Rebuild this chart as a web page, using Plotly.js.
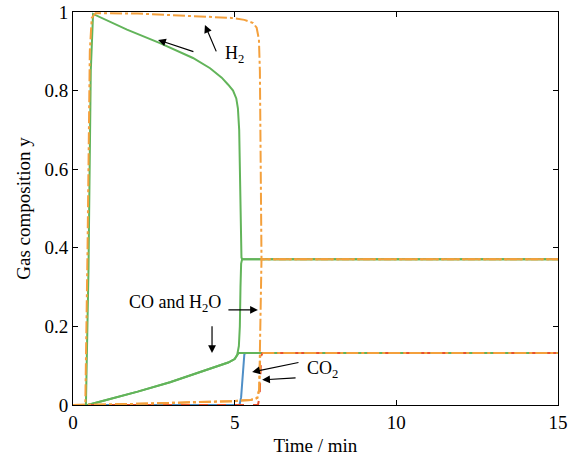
<!DOCTYPE html>
<html>
<head>
<meta charset="utf-8">
<script src="https://cdn.plot.ly/plotly-3.0.1.min.js"></script>
<style>html,body{margin:0;padding:0;background:#fff;}#chart{width:568px;height:459px;}</style>
</head>
<body>
<div id="chart"></div>
<script>
// Case 1 (solid lines)
const h2_1_t = [0, 0.40, 0.48, 0.55, 0.62, 0.80, 1.14, 1.67, 2.69, 3.71, 4.24, 4.60, 4.80, 4.95, 5.05, 5.10, 5.14, 5.17, 5.19, 5.21, 5.24, 15];
const h2_1_y = [0, 0, 0.35, 0.85, 0.995, 0.988, 0.974, 0.955, 0.921, 0.883, 0.857, 0.833, 0.815, 0.800, 0.780, 0.755, 0.700, 0.550, 0.420, 0.375, 0.371, 0.371];

const h2o_1_t = [0, 0.45, 1, 2, 3, 4, 4.5, 4.8, 5.0, 5.08, 5.13, 5.16, 5.18, 5.20, 5.23, 15];
const h2o_1_y = [0, 0, 0.012, 0.034, 0.058, 0.085, 0.098, 0.108, 0.117, 0.128, 0.150, 0.200, 0.300, 0.360, 0.371, 0.371];

const co_1_t = [0, 0.45, 1, 2, 3, 4, 4.5, 4.8, 5.0, 5.08, 5.12, 15];
const co_1_y = [0, 0, 0.012, 0.034, 0.058, 0.085, 0.098, 0.108, 0.117, 0.128, 0.132, 0.132];

const co2_1_t = [0, 5.15, 5.20, 5.24, 5.27, 5.30, 5.35, 15];
const co2_1_y = [0, 0, 0.02, 0.07, 0.115, 0.130, 0.132, 0.132];

// Case 2 (dash-dot lines)
const h2_2_t = [0, 0.38, 0.45, 0.52, 0.58, 0.70, 2.0, 3.5, 4.9, 5.3, 5.57, 5.68, 5.75, 5.78, 5.80, 5.81, 5.83, 15];
const h2_2_y = [0, 0, 0.40, 0.90, 0.985, 0.997, 0.996, 0.991, 0.985, 0.980, 0.972, 0.960, 0.930, 0.850, 0.600, 0.400, 0.371, 0.371];

const h2o_2_t = [0, 0.40, 1, 2, 3, 4, 5, 5.5, 5.7, 5.76, 5.79, 5.81, 5.83, 15];
const h2o_2_y = [0, 0, 0.001, 0.003, 0.005, 0.007, 0.010, 0.013, 0.018, 0.040, 0.150, 0.300, 0.371, 0.371];

const co_2_t = [0, 0.40, 1, 2, 3, 4, 5, 5.5, 5.7, 5.76, 5.79, 5.82, 15];
const co_2_y = [0, 0, 0.001, 0.003, 0.005, 0.007, 0.010, 0.013, 0.018, 0.040, 0.125, 0.132, 0.132];

const co2_2_t = [0, 5.72, 5.77, 5.80, 5.82, 5.86, 15];
const co2_2_y = [0, 0, 0.02, 0.08, 0.125, 0.132, 0.132];

const xTicks = [0, 5, 10, 15];
const yTicks = [0, 0.2, 0.4, 0.6, 0.8, 1];
const yTickText = ['0', '0.2', '0.4', '0.6', '0.8', '1'];

const GREEN = '#62b45a', ORANGE = '#f4a03c', BLUE = '#4f8fc7', RED = '#e8512e';
const DD = '12px,3px,3px,3px';

function tr(x, y, color, dash) {
  return {x: x, y: y, type: 'scatter', mode: 'lines', hoverinfo: 'skip',
    line: {color: color, width: 2, dash: dash || 'solid'}};
}

const data = [
  tr(co2_1_t, co2_1_y, BLUE),
  tr(co_1_t, co_1_y, GREEN),
  tr(h2o_1_t, h2o_1_y, GREEN),
  tr(h2_1_t, h2_1_y, GREEN),
  tr(co2_2_t, co2_2_y, RED, 'dash'),
  tr(co_2_t, co_2_y, ORANGE, DD),
  tr(h2o_2_t, h2o_2_y, ORANGE, DD),
  tr(h2_2_t, h2_2_y, ORANGE, DD)
];

const SERIF = 'Liberation Serif, Times New Roman, serif';
const FT = {family: SERIF, size: 19, color: '#000', weight: 'normal'};
const FTitle = {family: SERIF, size: 19, color: '#000', weight: 'normal'};
const FA = {family: SERIF, size: 18, color: '#000', weight: 'normal'};

function arrow(hx, hy, tx, ty) {
  return {x: hx, y: hy, ax: tx, ay: ty, xref: 'x', yref: 'y', axref: 'x', ayref: 'y',
    text: '', showarrow: true, arrowhead: 2, arrowsize: 1.3, arrowwidth: 1.2, arrowcolor: '#000'};
}
function label(x, y, text) {
  return {x: x, y: y, xref: 'x', yref: 'y', text: text, showarrow: false, font: FA};
}

const layout = {
  width: 568, height: 459,
  margin: {l: 73, r: 10, t: 12, b: 54},
  paper_bgcolor: '#fff', plot_bgcolor: '#fff',
  showlegend: false,
  font: FT,
  xaxis: {range: [0, 15], tickvals: xTicks, ticktext: xTicks.map(String),
    showgrid: false, zeroline: false, showline: true, linecolor: '#000', linewidth: 1,
    mirror: 'ticks', ticks: 'inside', ticklen: 5, tickcolor: '#000',
    title: {text: 'Time / min', font: FTitle, standoff: 6}, tickfont: FT},
  yaxis: {range: [0, 1], tickvals: yTicks, ticktext: yTickText,
    showgrid: false, zeroline: false, showline: true, linecolor: '#000', linewidth: 1,
    mirror: 'ticks', ticks: 'inside', ticklen: 5, tickcolor: '#000',
    title: {text: 'Gas composition y', font: FTitle, standoff: 8}, tickfont: FT},
  annotations: [
    label(4.98, 0.892, 'H<sub>2</sub>'),
    arrow(2.63, 0.929, 3.77, 0.898),
    arrow(4.08, 0.967, 4.45, 0.896),
    label(3.15, 0.258, 'CO and H<sub>2</sub>O'),
    arrow(5.72, 0.242, 4.76, 0.242),
    arrow(4.30, 0.132, 4.30, 0.204),
    label(7.72, 0.090, 'CO<sub>2</sub>'),
    arrow(5.54, 0.084, 7.02, 0.109),
    arrow(5.85, 0.064, 6.93, 0.069)
  ]
};

Plotly.newPlot('chart', data, layout, {displayModeBar: false, staticPlot: true});
</script>
</body>
</html>
